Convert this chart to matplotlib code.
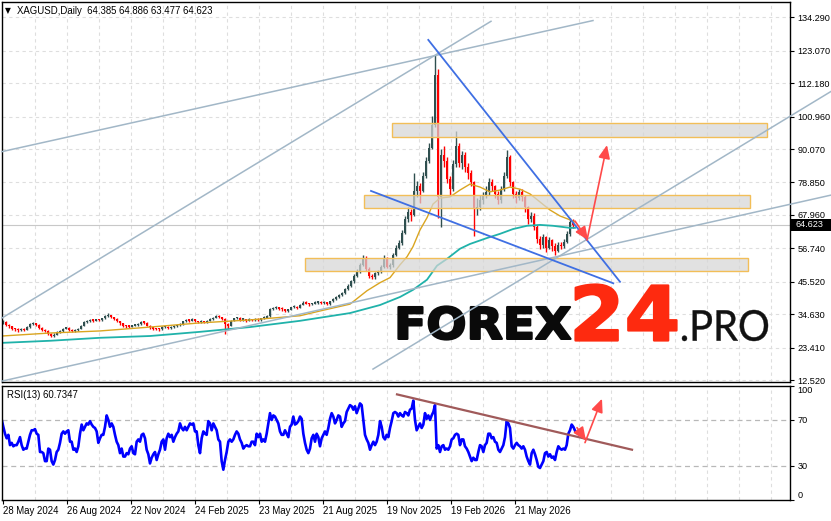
import numpy as np
import matplotlib
matplotlib.use("Agg")
import matplotlib.pyplot as plt
from matplotlib.textpath import TextPath
from matplotlib.font_manager import FontProperties
from matplotlib.patches import PathPatch, Rectangle
from matplotlib.path import Path

plt.rcParams['font.family'] = ['Liberation Sans', 'DejaVu Sans']

# ------------------------------------------------------------------ data
title_text = "XAGUSD,Daily  64.385 64.886 63.477 64.623"
rsi_text = "RSI(13) 60.7347"
last_price = 64.623

bars_per_candle = 3
first_open = 31.5
close = [32.0,31.0,30.5,29.8,29.5,29.2,29.6,29.3,30.2,31.2,
         31.6,31.0,30.0,29.4,29.0,28.0,27.3,27.8,28.6,29.0,
         29.8,30.0,29.4,29.0,29.2,29.6,30.8,32.0,32.2,32.6,
         32.4,32.8,32.6,33.2,34.0,34.4,33.6,33.0,32.2,31.5,
         30.8,30.5,30.4,30.8,31.0,31.3,32.0,31.8,30.8,30.2,
         29.8,29.6,29.5,30.2,30.4,30.0,30.3,30.6,30.9,31.2,
         32.2,32.7,32.4,32.9,32.2,32.0,32.3,31.9,32.5,33.0,
         33.4,34.0,33.6,33.0,31.2,30.8,32.4,33.2,33.4,32.8,
         32.9,32.5,32.8,32.6,33.0,32.6,33.2,33.5,33.9,36.2,
         36.6,36.8,36.5,36.2,35.8,36.0,36.9,37.2,36.7,37.8,
         38.5,38.2,37.9,38.2,38.5,38.7,38.3,38.6,38.0,38.9,
         39.6,40.4,41.0,41.6,43.0,44.0,45.6,47.5,49.0,51.2,
         53.6,49.8,47.5,47.0,48.3,49.0,50.5,53.4,50.6,51.0,
         54.5,57.0,58.5,62.0,66.5,69.0,68.0,76.0,77.5,76.0,
         81.0,86.0,90.5,98.0,115.0,74.0,88.0,86.0,80.0,76.5,
         85.0,91.0,85.5,88.0,84.0,82.0,79.0,70.0,70.5,73.0,
         74.5,75.5,79.0,77.5,75.0,73.0,76.5,81.0,87.5,79.0,
         75.0,73.5,75.5,74.0,70.5,66.5,67.5,64.0,60.0,58.0,
         60.5,57.0,59.5,57.5,56.0,58.0,57.5,59.0,61.5,65.5,
         64.6]
high = [32.6,32.2,31.3,30.8,30.1,29.9,30.0,29.9,30.5,31.5,
        32.0,31.8,31.2,30.2,29.7,29.2,28.3,28.2,28.9,29.4,
        30.1,30.4,30.2,29.6,29.6,29.9,31.1,32.3,32.6,33.0,
        32.9,33.1,33.1,33.5,34.3,34.9,34.5,33.8,33.2,32.4,
        31.7,31.1,30.9,31.1,31.4,31.6,32.3,32.3,31.9,31.0,
        30.4,30.1,29.9,30.5,30.8,30.6,30.6,30.9,31.2,31.6,
        32.5,33.1,33.0,33.3,33.1,32.5,32.7,32.5,32.8,33.3,
        33.8,34.4,34.3,33.8,33.2,31.6,32.7,33.5,33.8,33.6,
        33.3,33.1,33.2,33.1,33.4,33.2,33.5,33.9,34.3,36.6,
        37.0,37.3,37.1,36.9,36.5,36.4,37.2,37.6,37.4,38.1,
        38.9,38.9,38.5,38.5,38.9,39.1,39.0,39.0,38.8,39.2,
        40.0,40.8,41.5,42.1,43.5,44.6,46.2,48.0,49.8,51.9,
        54.6,54.0,50.5,48.2,48.8,49.6,51.0,54.6,53.8,51.8,
        55.0,57.8,59.5,63.0,67.5,70.5,70.0,82.0,79.5,78.5,
        82.5,87.5,92.0,101.0,121.5,117.0,90.0,91.0,87.5,81.0,
        86.5,96.0,92.0,89.5,89.0,85.5,83.0,79.5,73.5,74.5,
        75.5,77.5,80.5,80.0,78.0,76.0,77.5,82.5,89.7,88.0,
        79.5,76.0,76.5,76.5,74.5,71.0,69.0,68.5,64.5,61.0,
        61.5,61.0,60.5,60.0,58.5,58.8,59.0,59.8,62.5,67.0,
        66.5]
low = [31.2,30.6,30.0,29.4,29.0,28.8,29.0,28.9,29.2,30.0,
       30.9,30.7,29.7,29.0,28.6,27.6,26.8,27.0,27.6,28.4,
       28.8,29.5,29.1,28.7,28.8,29.0,29.5,30.7,31.7,32.0,
       32.0,32.2,32.3,32.5,33.0,33.8,33.3,32.6,31.9,31.1,
       30.4,30.1,30.0,30.2,30.6,30.8,31.1,31.4,30.5,29.8,
       29.4,29.2,29.0,29.3,29.9,29.7,29.8,30.1,30.4,30.7,
       31.0,32.0,32.0,32.2,31.9,31.6,31.8,31.5,31.7,32.3,
       32.8,33.2,33.2,32.6,28.0,29.6,30.6,32.2,32.9,32.4,
       32.4,32.1,32.3,32.2,32.4,32.2,32.5,33.0,33.3,33.8,
       35.9,36.2,36.0,35.8,35.4,35.4,35.9,36.6,36.3,36.6,
       37.6,37.9,37.5,37.6,37.9,38.2,38.0,38.1,37.6,37.8,
       38.6,39.3,40.1,40.6,41.3,42.6,43.6,45.2,47.0,48.6,
       50.8,49.0,46.8,46.4,46.6,47.8,48.6,50.2,50.0,49.8,
       50.6,54.0,56.5,58.0,61.5,65.5,66.0,67.5,74.0,72.0,
       75.5,80.5,85.5,90.0,97.5,67.0,64.0,84.0,78.5,74.5,
       76.0,84.0,84.0,83.5,82.5,80.0,77.5,61.0,68.0,69.5,
       71.5,73.5,74.5,76.0,73.5,71.5,72.0,76.0,80.5,77.5,
       73.5,72.0,73.0,72.5,69.0,65.0,65.5,63.0,58.5,56.5,
       57.0,55.5,56.5,56.0,54.5,55.5,56.5,57.0,58.5,61.0,
       63.5]

ma_fast_bar = [-1, 47, 97, 147, 197, 247, 297, 317, 347, 364, 377, 387, 397, 404, 410, 417,
               424, 430, 437, 447, 457, 467, 477, 487, 497, 507, 517, 527, 537, 547, 557, 567, 572]
ma_fast_val = [27.3, 28.3, 29.0, 30.3, 31.7, 32.7, 34.1, 35.7, 38.0, 42.5, 45.2, 46.9, 51.2, 53.9,
               57.3, 62.9, 67.0, 71.6, 73.6, 74.0, 76.3, 78.3, 77.3, 75.7, 76.3, 77.3, 76.6, 75.0,
               72.3, 69.6, 67.6, 66.3, 65.6]
ma_slow_bar = [-1, 47, 97, 147, 197, 247, 297, 347, 377, 397, 410, 424, 434, 444, 457, 467,
               484, 497, 510, 524, 537, 550, 567, 572]
ma_slow_val = [25.0, 25.7, 26.7, 27.3, 28.7, 30.3, 32.4, 35.0, 37.7, 40.4, 42.8, 46.2, 50.9,
               53.2, 56.6, 58.2, 60.2, 61.6, 63.2, 64.3, 64.6, 64.3, 63.6, 63.6]

rsi_first_bar = -1.3333
rsi_step = 5.0 / 3.0
rsi = [70.5,64,58,54,57,48,50,47,48,48, 51,55,48,44,45,45,51,57,61,61,
       62,58,57,42,42,41,34,34,45,44, 34,31,35,42,44,50,58,60,58,60,
       61,51,51,44,45,42,47,58,66,61, 64,67,66,69,66,64,63,60,50,54,
       57,57,64,74,70,64,67,64,57,51, 48,41,45,38,38,41,40,45,47,41,
       40,51,53,51,57,58,54,44,40,32, 37,40,42,35,40,44,51,53,44,54,
       58,55,57,51,55,58,60,67,63,61, 64,61,64,67,66,67,60,60,48,41,
       54,60,58,57,69,67,61,67,64,61, 53,51,34,26.5,35,42,51,53,51,53,
       57,60,58,53,50,45,47,48,47,47, 51,51,48,58,55,58,51,53,51,58,
       67,76,70,74,73,70,67,60,57,57, 61,58,55,64,66,73,66,67,69,73,
       71,58,50,44,41,45,54,57,51,58, 55,47,54,57,60,57,63,71,76,73,
       67,70,74,73,64,67,69,77,80,83, 82,79,82,76,80,84.5,83,70,57,53,
       50,44,48,51,48,51,57,69,64,55, 53,57,55,63,69,76,77,76,73,
       76,74,73,77,76,74,79,80,87,70, 61,64,67,63,66,76,71,74,70,74,
       77,83,45,48,42,47,48,44,45,44, 47,53,54,57,58,57,48,53,53,47,
       45,42,38,34,37,35,35,42,48,47, 42,48,50,58,58,54,55,51,50,44,
       42,45,48,55,69,67,63,47,45,48, 50,48,47,45,47,44,38,34,31,41,
       44,40,35,29,28,31,34,41,42,38, 40,37,38,35,42,47,45,44,45,44,
       48,58,61,66,64,60.7]

price_ticks = [12.52, 23.41, 34.63, 45.52, 56.74, 67.96, 78.85, 90.07, 100.96, 112.18, 123.07, 134.29]
rsi_ticks = [0, 30, 70, 100]
date_labels = ['28 May 2024', '26 Aug 2024', '22 Nov 2024', '24 Feb 2025', '23 May 2025',
               '21 Aug 2025', '19 Nov 2025', '19 Feb 2026', '21 May 2026']
date_bars = [0, 64, 128, 192, 256, 320, 384, 448, 512]

# drawn objects, in (bar, price) units
zone_bar_start = [389, 361, 302]
zone_bar_end = [764, 747, 745]
zone_low = [94.1, 70.2, 49.1]
zone_high = [98.8, 74.5, 53.4]
support_lines = [((-1, 89.2), (590, 133.2)), ((-1, 33.35), (488, 132.95)),
                 ((370, 16.2), (828, 109.4)), ((-1, 12.16), (828, 74.6))]
wedge_lines = [((425.3, 126.7), (617, 45.5)), ((368, 76.0), (610.3, 45.0))]
price_arrows = [((572, 65.9), (585, 59.5)), ((584, 59.5), (604, 91.4))]
rsi_arrows = [((574, 63.3), (583, 51.9)), ((582, 50.2), (599, 88.6))]
rsi_trend = ((394, 92.4), (629, 44.0))

# ------------------------------------------------------------------ layout
W, H = 831, 521
MAIN_L, MAIN_R, MAIN_T, MAIN_B = 2, 790, 2.3, 382
RSI_T, RSI_B = 385.7, 500
P_TOP_VAL, P_TOP_PX, P_PER_PX = 134.29, 17.3, 0.3357
X0_PX = 3
LABEL_FS = 6.6


def py_to_price(py):
    return P_TOP_VAL - (py - P_TOP_PX) * P_PER_PX


def px_to_bar(px):
    return px - X0_PX


fig = plt.figure(figsize=(W / 100, H / 100), dpi=100)
fig.patch.set_facecolor('white')
ax = fig.add_axes([MAIN_L / W, 1 - MAIN_B / H, (MAIN_R - MAIN_L) / W, (MAIN_B - MAIN_T) / H])
ax2 = fig.add_axes([MAIN_L / W, 1 - RSI_B / H, (MAIN_R - MAIN_L) / W, (RSI_B - RSI_T) / H])

ax.set_xlim(px_to_bar(MAIN_L), px_to_bar(MAIN_R))
ax.set_ylim(py_to_price(MAIN_B), py_to_price(MAIN_T))
ax2.set_xlim(px_to_bar(MAIN_L), px_to_bar(MAIN_R))
ax2.set_ylim(0, 100)

GRID = '#DEDEDE'
for a in (ax, ax2):
    for b in np.arange(32, 800, 32):
        a.axvline(b, color=GRID, lw=0.8, ls=(0, (3, 3)), zorder=0)
    for s in a.spines.values():
        s.set_color('black')
        s.set_linewidth(1.0)
for p in price_ticks:
    ax.axhline(p, color=GRID, lw=0.8, ls=(0, (3, 3)), zorder=0)
for lv in (30, 70):
    ax2.axhline(lv, color='#B8B8B8', lw=0.9, ls=(0, (4, 3)), zorder=0)

# bid line
ax.axhline(last_price, color='#C8C8C8', lw=0.8, zorder=0.5)

# ------------------------------------------------------------------ watermark logo
def logo_piece(s, fp, box, color, stroke):
    x0, x1, yt, yb = box
    tp = TextPath((0, 0), s, size=100, prop=fp)
    v = tp.vertices
    bb = tp.get_extents()
    px = x0 + (v[:, 0] - bb.x0) / bb.width * (x1 - x0)
    py = yb - (v[:, 1] - bb.y0) / bb.height * (yb - yt)
    path = Path(np.column_stack([px_to_bar(px), py_to_price(py)]), tp.codes)
    ax.add_patch(PathPatch(path, fc=color, ec=color if stroke > 0 else 'none',
                           lw=stroke, joinstyle='round', zorder=1.5))


BOLD = FontProperties(family='DejaVu Sans', weight='bold')
THIN = FontProperties(family='Lato', weight='normal')
logo_piece("FOREX", BOLD, (398.5, 570.5, 306.5, 339.5), '#0A0A0A', 1.6)
logo_piece("24", BOLD, (575.5, 676.5, 284.5, 340.5), '#FE2A0F', 1.6)
logo_piece(".PRO", THIN, (682, 768, 310, 341), '#111111', 0.3)

# ------------------------------------------------------------------ candles
c = np.array(close)
h = np.array(high)
l = np.array(low)
o = np.r_[first_open, c[:-1]]
x = np.arange(len(c)) * bars_per_candle
col = np.where(c >= o, '#2F4F4F', '#FF0000')
ax.vlines(x, l, h, colors=col, lw=1.0, zorder=2)
ax.bar(x, np.maximum(np.abs(c - o), 0.45), bottom=np.minimum(o, c), width=2.5,
       color=col, linewidth=0, zorder=2)

ax.plot(ma_slow_bar, ma_slow_val, color='#20B2AA', lw=1.3, zorder=2.2)
ax.plot(ma_fast_bar, ma_fast_val, color='#DAA520', lw=1.0, zorder=2.2)

# zones
for b0, b1, lo, hi in zip(zone_bar_start, zone_bar_end, zone_low, zone_high):
    ax.add_patch(Rectangle((b0, lo), b1 - b0, hi - lo, facecolor=(0.84, 0.84, 0.84, 0.72),
                           edgecolor='#F2BE58', lw=1.0, zorder=3))

for (xa, ya), (xb, yb) in support_lines:
    ax.plot([xa, xb], [ya, yb], color='#A2B7C7', lw=1.1, zorder=4, clip_on=False)
for (xa, ya), (xb, yb) in wedge_lines:
    ax.plot([xa, xb], [ya, yb], color='#3F6FE3', lw=1.3, zorder=4)

ARROW = dict(arrowstyle='-|>,head_length=0.8,head_width=0.35', color='#FF4A4A', lw=1.2,
             shrinkA=0, shrinkB=0, mutation_scale=10)
for (xa, ya), (xb, yb) in price_arrows:
    ax.annotate('', xy=(xb, yb), xytext=(xa, ya), arrowprops=ARROW, zorder=5)

# price axis
ax.yaxis.tick_right()
ax.set_yticks(price_ticks)
ax.set_yticklabels([f"{p:.3f}" for p in price_ticks])
ax.tick_params(axis='y', direction='out', length=3, width=0.8, pad=2.5, labelsize=LABEL_FS)
ax.tick_params(axis='x', bottom=False, labelbottom=False)

# current price box
yb_px = P_TOP_PX + (P_TOP_VAL - last_price) / P_PER_PX
fig.patches.append(Rectangle((791 / W, 1 - (yb_px + 6) / H), 40 / W, 12 / H,
                             transform=fig.transFigure, fc='black', ec='none', zorder=5))
fig.text(795 / W, 1 - yb_px / H, f"{last_price:.3f}", color='white', fontsize=LABEL_FS,
         va='center', ha='left', zorder=6)

# ------------------------------------------------------------------ RSI
rx = rsi_first_bar + np.arange(len(rsi)) * rsi_step
ax2.plot(rx, rsi, color='#0000FF', lw=1.9, zorder=2)
ax2.plot([rsi_trend[0][0], rsi_trend[1][0]], [rsi_trend[0][1], rsi_trend[1][1]],
         color='#A05A5A', lw=1.6, zorder=3)
for (xa, ya), (xb, yb) in rsi_arrows:
    ax2.annotate('', xy=(xb, yb), xytext=(xa, ya), arrowprops=ARROW, zorder=5)

ax2.yaxis.tick_right()
ax2.set_yticks(rsi_ticks)
ax2.set_yticklabels([str(t) for t in rsi_ticks])
ax2.tick_params(axis='y', direction='out', length=3, width=0.8, pad=2.5, labelsize=LABEL_FS)
for t, lab in zip(rsi_ticks, ax2.get_yticklabels()):
    if t == 100:
        lab.set_va('top')
    elif t == 0:
        lab.set_va('bottom')
ax2.set_xticks(date_bars)
ax2.set_xticklabels(date_labels, ha='left')
ax2.tick_params(axis='x', direction='out', length=3, width=0.8, pad=1.5, labelsize=6.9)

# ------------------------------------------------------------------ header texts
fig.text(5 / W, 1 - 11 / H, '\u25BC', fontsize=5.5, va='center', ha='left', family='DejaVu Sans')
fig.text(17 / W, 1 - 11 / H, title_text, fontsize=6.9, va='center', ha='left')
fig.text(7 / W, 1 - 395 / H, rsi_text, fontsize=6.9, va='center', ha='left')

fig.savefig('out.png', dpi=100, facecolor='white')
